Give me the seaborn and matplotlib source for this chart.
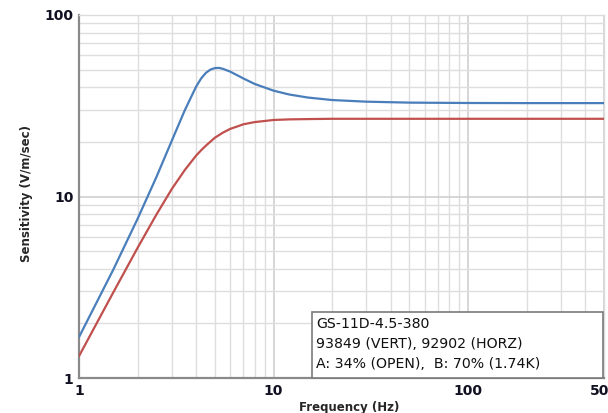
import matplotlib
matplotlib.use("Agg")
import matplotlib.pyplot as plt
import seaborn as sns
import pandas as pd
from matplotlib.patches import Rectangle
from matplotlib.ticker import FixedLocator, LogLocator, NullFormatter

# ---- data ----
freq = [1, 1.5, 2, 2.5, 3, 3.5, 4, 4.25, 4.5, 4.75, 5, 5.25, 5.5, 6, 6.5, 7, 8,
        10, 12, 15, 20, 30, 50, 100, 200, 500]
sens_a = [1.68, 3.95, 7.53, 12.8, 20.3, 29.9, 40.3, 44.8, 48.1, 50.1, 51.0, 51.1, 50.5,
          48.7, 46.6, 44.7, 41.7, 38.3, 36.5, 35.1, 34.0, 33.3, 32.9, 32.75, 32.7, 32.7]
sens_b = [1.32, 2.96, 5.21, 7.95, 11.0, 14.0, 16.8, 18.0, 19.1, 20.1, 21.1, 21.8, 22.5,
          23.6, 24.3, 25.0, 25.7, 26.4, 26.6, 26.7, 26.8, 26.8, 26.8, 26.8, 26.8, 26.8]
x_ticks = [1, 10, 100, 500]
x_ticklabels = ["1", "10", "100", "500"]
y_ticks = [1, 10, 100]
y_ticklabels = ["1", "10", "100"]
info_lines = ["GS-11D-4.5-380", "93849 (VERT), 92902 (HORZ)", "A: 34% (OPEN),  B: 70% (1.74K)"]

df = pd.DataFrame({
    "freq": freq * 2,
    "sens": sens_a + sens_b,
    "series": ["A"] * len(freq) + ["B"] * len(freq),
})

sns.set_style("white")
plt.rcParams["font.family"] = ["DejaVu Sans"]

fig = plt.figure(figsize=(6.08, 4.13), dpi=100)
ax = fig.add_axes([79 / 608, 1 - 378 / 413, (604 - 79) / 608, (378 - 15) / 413])

sns.lineplot(data=df, x="freq", y="sens", hue="series",
             palette={"A": "#4a7ebb", "B": "#c0504d"}, linewidth=1.6,
             legend=False, ax=ax, zorder=3)

ax.set_xscale("log")
ax.set_yscale("log")
ax.set_xlim(1, 500)
ax.set_ylim(1, 100)

ax.xaxis.set_major_locator(FixedLocator(x_ticks))
ax.set_xticklabels(x_ticklabels)
ax.yaxis.set_major_locator(FixedLocator(y_ticks))
ax.set_yticklabels(y_ticklabels)
ax.xaxis.set_minor_locator(LogLocator(base=10, subs=range(2, 10), numticks=20))
ax.yaxis.set_minor_locator(LogLocator(base=10, subs=range(2, 10), numticks=20))
ax.xaxis.set_minor_formatter(NullFormatter())
ax.yaxis.set_minor_formatter(NullFormatter())

ax.grid(which="major", color="#cfcfcf", linewidth=1.2, zorder=0)
ax.grid(which="minor", color="#dedede", linewidth=1.0, zorder=0)
ax.set_axisbelow(True)

ax.tick_params(which="both", length=0, pad=4)
for lbl in ax.get_xticklabels() + ax.get_yticklabels():
    lbl.set_fontweight("bold")
    lbl.set_fontsize(10)
    lbl.set_color("#111122")

for s in ["left", "bottom"]:
    ax.spines[s].set_color("#8a8a8a")
    ax.spines[s].set_linewidth(1.6)
for s in ["top", "right"]:
    ax.spines[s].set_color("#dcdcdc")
    ax.spines[s].set_linewidth(1.0)

ax.set_xlabel("Frequency (Hz)", fontsize=8.5, fontweight="bold")
ax.set_ylabel("Sensitivity (V/m/sec)", fontsize=8.5, fontweight="bold")
ax.xaxis.set_label_coords((349 - 79) / 525, (378 - 401) / 363)
ax.yaxis.set_label_coords((33 - 79) / 525, (378 - 193) / 363)

# info box
bx0 = (312 - 79) / 525
by1 = (378 - 312) / 363
ax.add_patch(Rectangle((bx0, 0), 1 - bx0 - 0.002, by1, transform=ax.transAxes,
                       facecolor="white", edgecolor="#7a7a7a", linewidth=1.2,
                       zorder=5, clip_on=False))
for i, t in enumerate(info_lines):
    ax.text((316 - 79) / 525, (378 - 324 - 20 * i) / 363, t, transform=ax.transAxes,
            fontsize=10.2, color="#111111", va="center", ha="left", zorder=6,
            fontweight="medium")

fig.savefig("out.png", dpi=100)
